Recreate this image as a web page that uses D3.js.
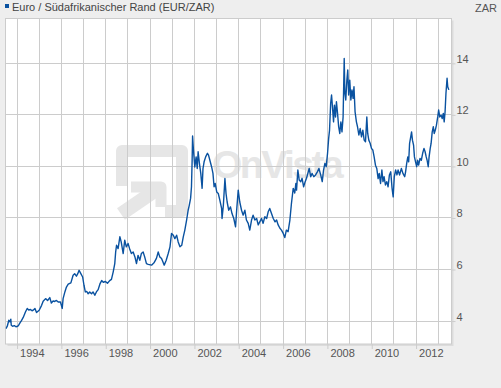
<!DOCTYPE html>
<html lang="de">
<head>
<meta charset="utf-8">
<script src="https://cdn.jsdelivr.net/npm/d3@7"></script>
<style>
  html, body { margin:0; padding:0; background:#eeeeee; }
  body { font-family: Arial, "Liberation Sans", sans-serif; }
  svg { display:block; }
  .axis text { fill:#555; font-size:11px; font-family: Arial, "Liberation Sans", sans-serif; }
  .axis line { stroke:#cccccc; }
</style>
</head>
<body>
<script>
var times = [
  1993.52,1993.58,1993.65,1993.70,1993.74,1993.76,1993.82,1993.90,1993.97,1994.05,
  1994.10,1994.16,1994.22,1994.30,1994.40,1994.48,1994.55,1994.63,1994.70,1994.75,
  1994.83,1994.90,1995.02,1995.13,1995.20,1995.31,1995.40,1995.50,1995.57,1995.65,
  1995.72,1995.80,1995.88,1995.98,1996.06,1996.10,1996.18,1996.25,1996.33,1996.45,
  1996.55,1996.62,1996.70,1996.76,1996.82,1996.88,1996.98,1997.04,1997.10,1997.16,
  1997.23,1997.30,1997.38,1997.45,1997.53,1997.60,1997.68,1997.76,1997.84,1997.92,
  1998.00,1998.10,1998.20,1998.28,1998.36,1998.43,1998.47,1998.51,1998.58,1998.66,
  1998.72,1998.81,1998.88,1998.95,1999.03,1999.10,1999.18,1999.26,1999.34,1999.41,
  1999.48,1999.56,1999.63,1999.71,1999.78,1999.86,1999.94,2000.09,2000.20,2000.31,
  2000.39,2000.46,2000.54,2000.60,2000.66,2000.75,2000.84,2000.92,2000.99,2001.07,
  2001.14,2001.22,2001.29,2001.37,2001.45,2001.52,2001.59,2001.67,2001.74,2001.79,
  2001.85,2001.89,2001.92,2001.94,2001.98,2002.04,2002.10,2002.15,2002.19,2002.25,
  2002.31,2002.37,2002.41,2002.46,2002.53,2002.61,2002.66,2002.72,2002.80,2002.86,
  2002.91,2002.96,2003.03,2003.10,2003.17,2003.25,2003.27,2003.33,2003.40,2003.45,
  2003.50,2003.57,2003.65,2003.72,2003.80,2003.88,2003.93,2004.00,2004.07,2004.15,
  2004.22,2004.30,2004.37,2004.45,2004.52,2004.60,2004.67,2004.75,2004.83,2004.90,
  2004.97,2005.05,2005.12,2005.20,2005.28,2005.35,2005.42,2005.50,2005.58,2005.66,
  2005.73,2005.80,2005.88,2005.95,2006.03,2006.10,2006.17,2006.25,2006.33,2006.40,
  2006.48,2006.55,2006.60,2006.63,2006.69,2006.75,2006.82,2006.88,2006.95,2007.02,
  2007.08,2007.14,2007.20,2007.27,2007.33,2007.41,2007.49,2007.57,2007.64,2007.72,
  2007.79,2007.85,2007.91,2007.97,2008.03,2008.08,2008.12,2008.17,2008.21,2008.25,
  2008.30,2008.34,2008.39,2008.43,2008.48,2008.53,2008.58,2008.63,2008.68,2008.73,
  2008.78,2008.81,2008.85,2008.90,2008.94,2008.98,2009.03,2009.08,2009.13,2009.18,
  2009.22,2009.27,2009.33,2009.38,2009.44,2009.50,2009.56,2009.62,2009.68,2009.74,
  2009.80,2009.84,2009.89,2009.95,2010.01,2010.07,2010.13,2010.19,2010.25,2010.31,
  2010.36,2010.42,2010.48,2010.53,2010.58,2010.64,2010.70,2010.76,2010.82,2010.88,
  2010.94,2010.99,2011.04,2011.10,2011.16,2011.21,2011.28,2011.36,2011.43,2011.51,
  2011.55,2011.60,2011.65,2011.69,2011.73,2011.77,2011.82,2011.86,2011.91,2011.95,
  2012.00,2012.05,2012.09,2012.14,2012.20,2012.26,2012.32,2012.38,2012.43,2012.48,
  2012.52,2012.57,2012.61,2012.66,2012.70,2012.75,2012.80,2012.84,2012.89,2012.94,
  2013.00,2013.04,2013.09,2013.15,2013.20,2013.25,2013.29,2013.33,2013.37,2013.42,
  2013.45,2013.50
];
var values = [
  3.69,3.78,4.01,3.95,4.05,3.82,3.78,3.80,3.76,3.78,
  3.83,3.92,4.00,4.12,4.33,4.47,4.41,4.43,4.38,4.40,
  4.47,4.31,4.40,4.59,4.75,4.85,4.78,4.89,4.68,4.76,
  4.74,4.78,4.72,4.72,4.47,4.85,5.11,5.30,5.41,5.46,
  5.76,5.82,5.72,5.82,5.95,5.85,5.69,5.37,5.11,5.13,
  5.04,5.11,5.04,5.11,4.98,5.11,5.20,5.42,5.55,5.48,
  5.52,5.45,5.55,5.60,5.89,6.21,6.66,6.92,6.79,7.25,
  7.05,6.60,7.12,6.86,6.99,6.79,6.60,6.66,6.47,6.21,
  6.53,6.34,6.60,6.66,6.47,6.21,6.18,6.15,6.24,6.41,
  6.66,6.47,6.41,6.28,6.15,6.34,6.60,6.86,7.38,7.31,
  7.18,7.31,7.05,6.86,6.92,7.25,7.51,7.90,8.28,8.47,
  8.74,9.19,10.22,11.16,10.61,9.96,10.35,9.90,10.55,10.09,
  9.71,9.13,9.90,10.16,10.35,10.49,10.42,10.22,9.96,9.71,
  9.19,9.32,8.99,8.93,8.67,8.35,7.96,8.48,9.51,8.93,
  8.60,8.28,8.41,8.15,7.96,7.64,8.28,9.06,8.60,8.28,
  8.09,8.28,7.90,7.77,7.51,7.90,8.09,7.90,7.96,7.71,
  7.83,7.96,7.77,8.03,7.96,8.22,8.35,8.15,7.96,7.83,
  7.90,7.71,7.58,7.51,7.38,7.22,7.51,7.45,7.90,8.54,
  9.13,8.95,9.32,9.06,9.84,9.45,9.39,9.52,9.19,9.39,
  9.52,9.71,9.90,9.58,9.71,9.58,9.65,9.77,9.90,9.65,
  9.39,9.84,10.10,9.97,10.49,11.07,11.39,12.43,12.75,12.30,
  11.71,12.36,11.90,12.49,12.04,11.52,11.26,11.71,11.32,11.90,
  14.17,12.82,12.56,13.33,13.72,12.75,13.33,12.56,12.95,12.62,
  13.07,12.10,11.71,11.52,11.20,11.45,11.13,11.39,11.00,10.94,
  11.90,11.26,11.00,10.88,10.68,10.62,10.35,10.03,9.90,9.51,
  9.71,9.32,9.84,9.39,9.58,9.26,9.39,9.19,9.65,9.77,
  9.13,8.80,9.58,9.84,9.65,9.84,9.65,9.90,9.71,9.58,
  9.77,10.10,10.35,10.16,10.87,11.07,11.32,11.00,10.81,10.35,
  10.16,9.97,10.22,10.03,10.29,10.22,10.49,10.68,10.55,10.35,
  10.22,9.97,10.35,10.68,10.87,11.32,11.52,11.26,11.39,11.58,
  11.91,12.17,11.90,11.97,11.84,12.04,11.71,12.10,12.82,13.40,
  13.07,12.95
];
var yTicks = [4, 6, 8, 10, 12, 14];
var yearLabels = [1994, 1996, 1998, 2000, 2002, 2004, 2006, 2008, 2010, 2012];
var title = "Euro / S\u00fcdafrikanischer Rand (EUR/ZAR)";
var unit = "ZAR";

var W = 501, H = 388;
var plot = {left: 5.5, top: 18.5, right: 451.5, bottom: 344};
var lineColor = "#0a52a0";

// Dezimaljahr -> Datum
function yearToDate(t){
  var y = Math.floor(t);
  var a = new Date(y, 0, 1), b = new Date(y + 1, 0, 1);
  return new Date(+a + (t - y) * (b - a));
}

var data = times.map(function(t, i){ return {date: yearToDate(t), value: values[i]}; });

var svg = d3.select("body").append("svg").attr("width", W).attr("height", H);

var x = d3.scaleTime()
  .domain([yearToDate(1993.5), yearToDate(2013.62)])
  .range([plot.left, plot.right]);
var y = d3.scaleLinear()
  .domain([3.09, 15.72])
  .range([plot.bottom, plot.top]);

// Plotfläche mit leichtem Schatten
svg.append("rect").attr("x", plot.left + 2).attr("y", plot.top + 2)
  .attr("width", plot.right - plot.left).attr("height", plot.bottom - plot.top)
  .attr("fill", "#dcdcdc");
svg.append("rect").attr("x", plot.left).attr("y", plot.top)
  .attr("width", plot.right - plot.left).attr("height", plot.bottom - plot.top)
  .attr("fill", "#fff");

// Wasserzeichen
var wm = svg.append("g").attr("fill", "none").attr("stroke", "#e6e6e6")
  .attr("stroke-linejoin", "round").attr("stroke-linecap", "butt");
wm.append("path").attr("stroke-width", 12)
  .attr("d", "M122,186 L122,151 L182,151 L182,211 L165,211");
wm.append("path").attr("stroke-width", 11)
  .attr("d", "M131,187 L161,187 L161,207");
wm.append("path").attr("stroke-width", 14)
  .attr("d", "M121,214 L156,190");
svg.append("text").attr("x", 212).attr("y", 178)
  .attr("fill", "#e6e6e6").style("font-size", "39px").style("font-weight", "bold")
  .style("letter-spacing", "-2.5px")
  .text("OnVista");

// Gitter
var years = x.ticks(d3.timeYear.every(1));
svg.append("g").selectAll("line").data(years).enter().append("line")
  .attr("x1", function(d){ return Math.round(x(d)) + 0.5; })
  .attr("x2", function(d){ return Math.round(x(d)) + 0.5; })
  .attr("y1", plot.top).attr("y2", plot.bottom)
  .attr("stroke", "#cccccc");
svg.append("g").selectAll("line").data(yTicks).enter().append("line")
  .attr("x1", plot.left).attr("x2", plot.right)
  .attr("y1", function(d){ return Math.round(y(d)) + 0.5; })
  .attr("y2", function(d){ return Math.round(y(d)) + 0.5; })
  .attr("stroke", "#cccccc");

svg.append("rect").attr("x", plot.left).attr("y", plot.top)
  .attr("width", plot.right - plot.left).attr("height", plot.bottom - plot.top)
  .attr("fill", "none").attr("stroke", "#cccccc");

// Achsen
var xAxis = svg.append("g").attr("class", "axis")
  .attr("transform", "translate(0," + plot.bottom + ")")
  .call(d3.axisBottom(x)
    .tickValues(yearLabels.map(function(v){ return new Date(v, 0, 1); }))
    .tickSize(5).tickPadding(0)
    .tickFormat(d3.timeFormat("%Y")));
xAxis.select(".domain").remove();
xAxis.selectAll("line").attr("transform", "translate(0.5,0)");
xAxis.selectAll("text").attr("text-anchor", "start").attr("x", 3);

var yAxis = svg.append("g").attr("class", "axis")
  .attr("transform", "translate(" + plot.right + ",0)")
  .call(d3.axisRight(y).tickValues(yTicks).tickSize(4).tickPadding(1));
yAxis.select(".domain").remove();
yAxis.selectAll("line").attr("transform", "translate(0,0.5)");
yAxis.selectAll("text").attr("dy", "-0.05em");

// Kurs
svg.append("clipPath").attr("id", "clip").append("rect")
  .attr("x", plot.left).attr("y", plot.top)
  .attr("width", plot.right - plot.left).attr("height", plot.bottom - plot.top);
var line = d3.line()
  .x(function(d){ return x(d.date); })
  .y(function(d){ return y(d.value); });
svg.append("path").datum(data)
  .attr("clip-path", "url(#clip)")
  .attr("fill", "none").attr("stroke", lineColor).attr("stroke-width", 1.4)
  .attr("stroke-linejoin", "round")
  .attr("d", line);

// Legende
svg.append("rect").attr("x", 5).attr("y", 4).attr("width", 4).attr("height", 4).attr("fill", lineColor);
svg.append("text").attr("x", 12).attr("y", 11)
  .attr("fill", "#444").style("font-size", "11px").text(title);
svg.append("text").attr("x", 497).attr("y", 12).attr("text-anchor", "end")
  .attr("fill", "#555").style("font-size", "11px").text(unit);
</script>
</body>
</html>
